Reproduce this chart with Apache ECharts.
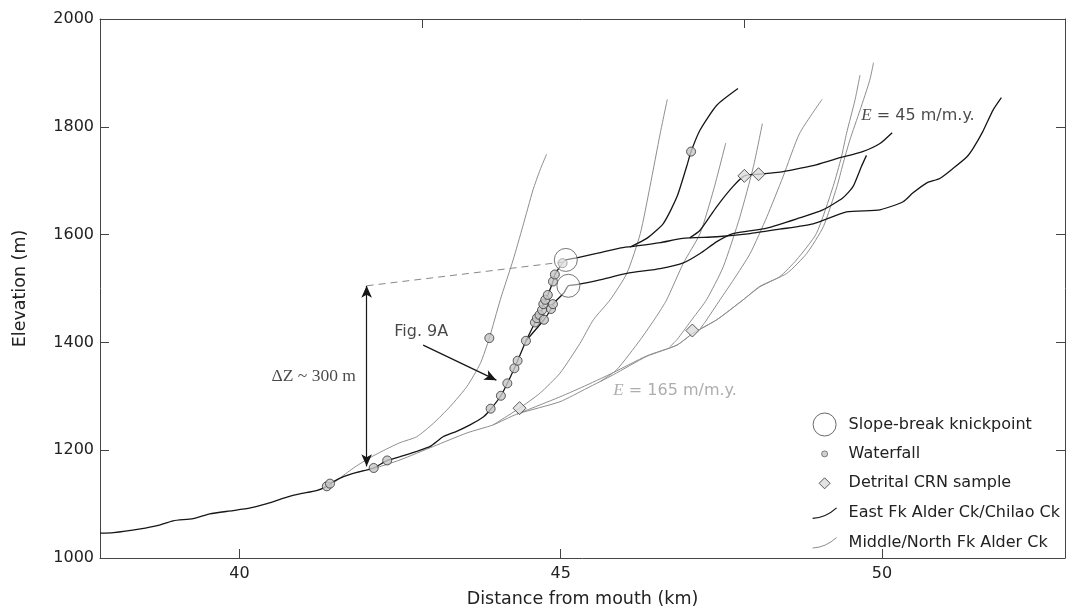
<!DOCTYPE html>
<html><head><meta charset="utf-8">
<script src="https://cdn.jsdelivr.net/npm/echarts@6/dist/echarts.min.js"></script>
<style>html,body{margin:0;padding:0;background:#fff}#c{width:1072px;height:611px}</style>
</head><body><div id="c"></div>
<script>
// ---- axis ticks ----
const xTicks = [40, 45, 50];
const topTicks = [42.84, 47.85];
const yTicks = [1000, 1200, 1400, 1600, 1800, 2000];

// ---- East Fk Alder Ck / Chilao Ck profiles (km, m) ----
const eastTrunk = [[37.83,1046],[38.04,1047],[38.46,1054],[38.72,1060],[38.97,1069],[39.28,1073],[39.54,1082],[39.90,1088],[40.17,1093],[40.43,1101],[40.74,1113],[40.94,1119],[41.20,1125],[41.36,1133],[41.41,1138],[41.62,1151],[41.83,1159],[42.09,1167],[42.30,1181],[42.50,1188],[42.76,1198],[42.97,1207],[43.17,1225],[43.38,1235],[43.59,1247],[43.80,1262],[43.91,1276],[44.07,1301],[44.17,1324],[44.28,1352],[44.33,1366],[44.46,1403]];
const eastUpper = [[44.46,1403],[44.60,1437],[44.63,1445],[44.67,1451],[44.71,1460],[44.73,1471],[44.76,1479],[44.80,1488],[44.88,1513],[44.91,1526],[45.03,1547],[45.08,1553],[45.25,1557],[45.56,1565],[45.92,1575],[46.13,1578],[46.55,1585],[46.90,1593],[47.43,1596],[47.95,1602],[48.41,1610],[48.93,1620],[49.45,1642],[49.97,1646],[50.33,1661],[50.48,1677],[50.70,1696],[50.90,1704],[51.11,1723],[51.32,1744],[51.42,1760],[51.57,1791],[51.73,1831],[51.86,1854]];
const eastSteep = [[46.08,1577],[46.34,1593],[46.60,1621],[46.81,1670],[46.96,1726],[47.03,1754],[47.17,1794],[47.43,1840],[47.76,1871]];
const eastDiamond = [[47.01,1594],[47.17,1608],[47.43,1652],[47.68,1689],[47.86,1709],[48.08,1712],[48.41,1716],[48.72,1723],[48.93,1728],[49.30,1741],[49.70,1754],[49.97,1769],[50.16,1789]];
const eastLower = [[44.46,1403],[44.74,1442],[44.85,1462],[44.88,1471],[45.05,1492],[45.12,1505],[45.25,1507],[45.61,1516],[46.03,1528],[46.55,1537],[46.90,1547],[47.17,1565],[47.43,1587],[47.68,1602],[48.21,1612],[48.72,1631],[49.08,1646],[49.39,1668],[49.55,1689],[49.68,1726],[49.76,1747]];

// ---- Middle / North Fk Alder Ck profiles (km, m) ----
const grayA = [[41.49,1141],[41.57,1149],[41.80,1169],[42.03,1186],[42.27,1201],[42.50,1214],[42.76,1225],[43.02,1250],[43.28,1281],[43.54,1318],[43.75,1361],[43.89,1408],[44.06,1479],[44.26,1553],[44.41,1615],[44.57,1683],[44.68,1720],[44.78,1749]];
const grayP1 = [[41.83,1159],[42.09,1166],[42.50,1182],[43.02,1207],[43.54,1232],[43.95,1247],[44.32,1267],[44.99,1290],[45.41,1315],[45.82,1340],[46.34,1374],[46.81,1395],[47.06,1417],[47.43,1442],[47.84,1479],[48.10,1503],[48.41,1522],[48.67,1553],[48.98,1602],[49.24,1689],[49.37,1744],[49.45,1788],[49.58,1849],[49.66,1896]];
const grayP2 = [[44.32,1267],[44.99,1299],[45.41,1321],[45.82,1344],[46.34,1375],[46.81,1395],[47.06,1417],[47.43,1442],[47.84,1479],[48.10,1504],[48.52,1528],[48.83,1565],[49.09,1615],[49.30,1689],[49.39,1729],[49.50,1775],[49.66,1831],[49.81,1886],[49.87,1919]];
const grayC = [[43.95,1247],[44.36,1278],[44.68,1306],[44.99,1343],[45.30,1398],[45.51,1442],[45.77,1479],[46.03,1528],[46.24,1602],[46.39,1689],[46.55,1788],[46.66,1851]];
const grayD = [[45.61,1327],[45.87,1349],[46.24,1405],[46.49,1448],[46.65,1479],[46.91,1547],[47.17,1602],[47.38,1683],[47.57,1770]];
const grayE = [[46.70,1392],[46.81,1405],[47.06,1445],[47.27,1479],[47.53,1540],[47.79,1633],[48.00,1726],[48.14,1806]];
const grayF = [[47.17,1425],[47.25,1438],[47.48,1479],[47.69,1516],[47.95,1565],[48.21,1633],[48.46,1707],[48.72,1788],[49.07,1851]];

// ---- point features ----
const waterfalls = [[41.36,1133],[41.41,1138],[42.09,1167],[42.30,1181],[43.91,1277],[44.07,1301],[44.17,1324],[44.28,1352],[44.33,1366],[44.46,1403],[44.60,1437],[44.63,1445],[44.67,1451],[44.71,1460],[44.73,1471],[44.76,1479],[44.80,1488],[44.88,1513],[44.91,1526],[44.74,1442],[44.85,1462],[44.88,1471],[43.89,1408],[47.03,1754],[45.03,1547]];
const knickpoints = [[45.08,1553],[45.12,1505]];
const crnSamples = [[44.36,1278],[47.05,1422],[47.86,1709],[48.08,1712]];

// ---- annotations ----
const dzArrow = [[41.98,1505],[41.98,1170]];
const dashLine = [[41.98,1505],[45.03,1549]];
const figArrow = [[42.86,1395],[44.00,1330]];
const noteDZ = [40.50,1336];
const noteFig = [42.41,1420];
const note165 = [45.82,1311];
const note45 = [49.68,1821];

const F = "'DejaVu Sans', 'Liberation Sans', sans-serif";
const SERIF = "'Liberation Serif', 'DejaVu Serif', serif";
const AX = {color:'#444', width:1};
const BLACK = '#161616', GRAY = '#8e8e8e';
const EAST = 'East Fk Alder Ck/Chilao Ck', MID = 'Middle/North Fk Alder Ck';
const plain = v => String(v);
const blank = () => '';

function lineSeries(name, data, color, width){
  return {type:'line', name, data, xAxisIndex:0, yAxisIndex:0, showSymbol:false, symbol:'none', smooth:0.2,
    lineStyle:{color, width}, itemStyle:{color}, silent:true, animation:false, z:2};
}

const series = [];
[grayA, grayP1, grayP2, grayC, grayD, grayE, grayF].forEach(d => series.push(lineSeries(MID, d, GRAY, 1)));
[eastTrunk, eastUpper, eastSteep, eastDiamond, eastLower].forEach(d => series.push(lineSeries(EAST, d, BLACK, 1.3)));

series.push({type:'scatter', name:'Waterfall', data:waterfalls, symbol:'circle', symbolSize:9,
  itemStyle:{color:'#c6c6c6', borderColor:'#333', borderWidth:1}, z:4, silent:true, animation:false});
series.push({type:'scatter', name:'Detrital CRN sample', data:crnSamples, symbol:'diamond', symbolSize:13,
  itemStyle:{color:'#dcdcdc', borderColor:'#333', borderWidth:1}, z:4, silent:true, animation:false});
series.push({type:'scatter', name:'Slope-break knickpoint', data:knickpoints, symbol:'circle', symbolSize:23,
  itemStyle:{color:'rgba(255,255,255,0.6)', borderColor:'#555', borderWidth:1}, z:5, silent:true, animation:false});

const labelBase = {show:true, position:'right', distance:0, color:'#1a1a1a', fontFamily:F, fontSize:16};
series.push({type:'scatter', name:'notes', data:[
    {value:noteDZ, label:Object.assign({}, labelBase, {formatter:'ΔZ ~ 300 m', fontFamily:SERIF, fontSize:17.5})},
    {value:noteFig, label:Object.assign({}, labelBase, {formatter:'Fig. 9A'})},
    {value:note165, label:Object.assign({}, labelBase, {formatter:'{e|E}{t| = 165 m/m.y.}', rich:{e:{fontFamily:SERIF, fontStyle:'italic', fontSize:17, color:'#999'}, t:{fontFamily:F, fontSize:16, color:'#999'}}})},
    {value:note45, label:Object.assign({}, labelBase, {formatter:'{e|E}{t| = 45 m/m.y.}', rich:{e:{fontFamily:SERIF, fontStyle:'italic', fontSize:17, color:'#1a1a1a'}, t:{fontFamily:F, fontSize:16, color:'#1a1a1a'}}})}
  ], symbolSize:0, silent:true, animation:false, z:6,
  markLine:{silent:true, animation:false, label:{show:false}, emphasis:{disabled:true},
    data:[
      [{coord:dashLine[0], symbol:'none', lineStyle:{color:'#888', width:1, type:[7,5]}}, {coord:dashLine[1], symbol:'none'}],
      [{coord:dzArrow[0], symbol:'arrow', symbolSize:[8,12], lineStyle:{color:BLACK, width:1.2, type:'solid'}}, {coord:dzArrow[1], symbol:'arrow', symbolSize:[8,12]}],
      [{coord:figArrow[0], symbol:'none', lineStyle:{color:BLACK, width:1.2, type:'solid'}}, {coord:figArrow[1], symbol:'arrow', symbolSize:[8,12]}]
    ]}
});

const chart = echarts.init(document.getElementById('c'), null, {renderer:'canvas'});
chart.setOption({
  animation:false,
  backgroundColor:'#fff',
  grid:{left:100, right:7, top:19, bottom:53, containLabel:false, outerBoundsMode:'none'},
  xAxis:[
    {type:'value', position:'bottom', min:37.83, max:52.85,
     axisLine:{show:true, onZero:false, lineStyle:AX},
     axisTick:{show:true, inside:true, length:9, customValues:xTicks, lineStyle:AX},
     axisLabel:{show:true, customValues:xTicks, formatter:plain, fontSize:16, color:'#222', fontFamily:F, margin:8},
     splitLine:{show:false},
     name:'Distance from mouth (km)', nameLocation:'middle', nameGap:32,
     nameTextStyle:{fontSize:17.5, color:'#222', fontFamily:F}},
    {type:'value', position:'top', min:37.83, max:52.85,
     axisLine:{show:true, onZero:false, lineStyle:AX},
     axisTick:{show:true, inside:true, length:9, customValues:topTicks, lineStyle:AX},
     axisLabel:{show:true, customValues:topTicks, formatter:blank}, splitLine:{show:false}}
  ],
  yAxis:[
    {type:'value', position:'left', min:1000, max:2000, interval:200,
     axisLine:{show:true, onZero:false, lineStyle:AX},
     axisTick:{show:true, inside:true, length:9, customValues:yTicks, lineStyle:AX},
     axisLabel:{show:true, customValues:yTicks, formatter:plain, fontSize:16, color:'#222', fontFamily:F, margin:6},
     splitLine:{show:false},
     name:'Elevation (m)', nameLocation:'middle', nameGap:71, nameRotate:90,
     nameTextStyle:{fontSize:17.5, color:'#222', fontFamily:F}},
    {type:'value', position:'right', min:1000, max:2000, interval:200,
     axisLine:{show:true, onZero:false, lineStyle:AX},
     axisTick:{show:true, inside:true, length:9, customValues:yTicks, lineStyle:AX},
     axisLabel:{show:true, customValues:yTicks, formatter:blank}, splitLine:{show:false}}
  ],
  legend:{orient:'vertical', left:807, top:407, itemWidth:24, itemHeight:24, itemGap:4.5,
    selectedMode:false, textStyle:{fontSize:16, color:'#222', fontFamily:F, padding:[0,0,0,7]},
    data:[
      {name:'Slope-break knickpoint', icon:'path://M0 0M24 24M0.5 12a11.5 11.5 0 1 0 23 0a11.5 11.5 0 1 0 -23 0Z', itemStyle:{color:'rgba(255,255,255,0)', borderColor:'#444', borderWidth:1}},
      {name:'Waterfall', icon:'path://M0 0M24 24M9 12a3 3 0 1 0 6 0a3 3 0 1 0 -6 0Z', itemStyle:{color:'#c6c6c6', borderColor:'#444', borderWidth:0.8}},
      {name:'Detrital CRN sample', icon:'path://M0 0M24 24M12 6.5L17.5 12L12 17.5L6.5 12Z', itemStyle:{color:'#dcdcdc', borderColor:'#333', borderWidth:1}},
      {name:EAST, icon:'path://M0 0M24 24M0 17.5Q13 17 24 7', itemStyle:{color:'rgba(0,0,0,0)', borderColor:BLACK, borderWidth:1.2}},
      {name:MID, icon:'path://M0 0M24 24M0 17.5Q13 17 24 7', itemStyle:{color:'rgba(0,0,0,0)', borderColor:GRAY, borderWidth:1}}
    ]},
  series
});
</script>
</body></html>
